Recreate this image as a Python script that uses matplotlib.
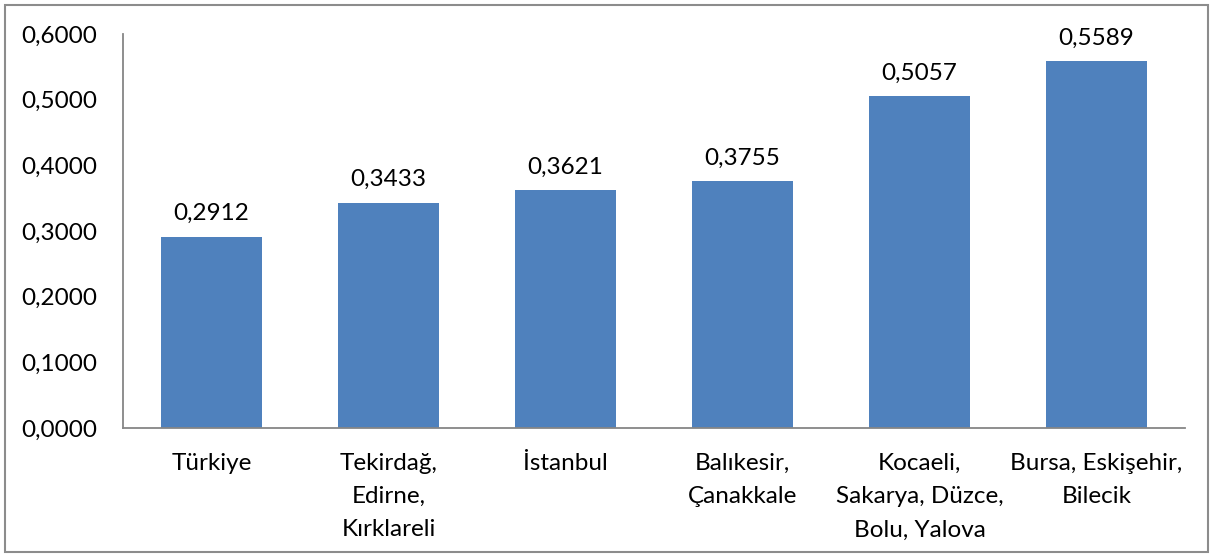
import matplotlib.pyplot as plt
import matplotlib.patches as mpatches
import numpy as np

plt.rcParams['font.family'] = ['Lato', 'DejaVu Sans']

# Bölge adları ve değerleri
bolgeler = ["Türkiye", "Tekirdağ,\nEdirne,\nKırklareli", "İstanbul",
            "Balıkesir,\nÇanakkale", "Kocaeli,\nSakarya, Düzce,\nBolu, Yalova",
            "Bursa, Eskişehir,\nBilecik"]
degerler = [0.2912, 0.3433, 0.3621, 0.3755, 0.5057, 0.5589]
y_ticks = [0.0, 0.1, 0.2, 0.3, 0.4, 0.5, 0.6]

fig = plt.figure(figsize=(12.16, 5.57), dpi=100)
ax = fig.add_axes([123 / 1216, 1 - 428 / 557, (1185 - 123) / 1216, (428 - 34) / 557])

x = np.arange(len(bolgeler))
ax.bar(x, degerler, width=0.57, color='#4F81BD')

# Değer etiketleri
for xi, v in zip(x, degerler):
    ax.annotate(f"{v:.4f}".replace('.', ','), (xi, v), xytext=(0, 9),
                textcoords='offset points', ha='center', va='bottom', fontsize=17.5)

ax.set_xlim(-0.5, len(bolgeler) - 0.5)
ax.set_ylim(0, 0.6)
ax.set_yticks(y_ticks)
ax.set_yticklabels([f"{t:.4f}".replace('.', ',') for t in y_ticks], fontsize=17.5)
ax.set_xticks(x)
ax.set_xticklabels(bolgeler, fontsize=17.5, linespacing=1.72)
ax.tick_params(axis='both', length=0)
ax.tick_params(axis='y', pad=18.5)
ax.tick_params(axis='x', pad=18)

for s in ['top', 'right']:
    ax.spines[s].set_visible(False)
for s in ['left', 'bottom']:
    ax.spines[s].set_color('#868686')
    ax.spines[s].set_linewidth(1.3)

# Grafik çerçevesi
fig.patches.append(mpatches.Rectangle((5 / 1216, 5 / 557), 1203 / 1216, 547 / 557,
                                      transform=fig.transFigure, fill=False,
                                      edgecolor='#8C8C8C', linewidth=1.5))

fig.savefig("out.png", dpi=100)
